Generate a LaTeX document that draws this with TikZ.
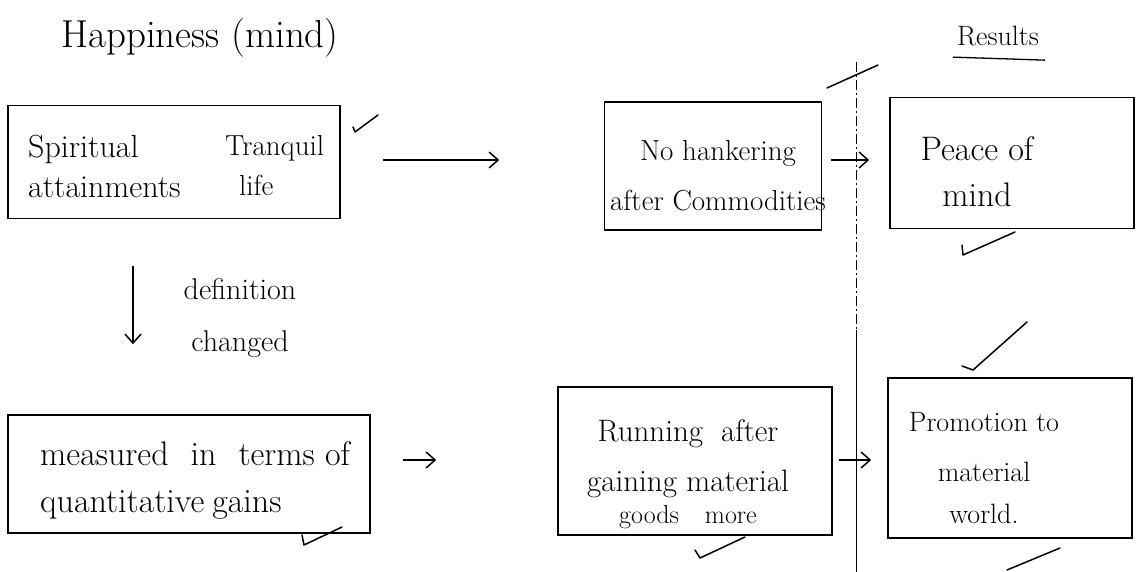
\documentclass[tikz,border=0pt]{standalone}
\usepackage{fontspec}
\usetikzlibrary{arrows.meta,calc}
\begin{document}
\begin{tikzpicture}[x=1pt,y=-1pt,
  box/.style={draw,line width=1.6pt,inner sep=0pt},
  txt/.style={inner sep=0pt,font=\fontsize{#1}{46}\selectfont},
  txt/.default=30,
  arr/.style={line width=1.5pt,-{Straight Barb[length=9pt,width=16pt,line width=1.5pt]}},
  tick/.style={line width=1.5pt,line cap=round,line join=round}]
\useasboundingbox (0,0) rectangle (1138,572);
\fill[white] (0,0) rectangle (1138,572);
% title and header
\node[txt=39] (title) at (200,38) {Happiness (mind)};
\node[txt=28] (res) at (998,36) {Results};
\draw[line width=1.3pt] ($(res.south west)+(-4,11)$) -- ($(res.south east)+(6,14)$);
% boxes
\node[box,minimum width=332pt,minimum height=113pt] (b1) at (174,162) {};
\node[box,minimum width=217pt,minimum height=128pt] (b2) at (713,166) {};
\node[box,minimum width=244pt,minimum height=131pt] (b3) at (1012,163) {};
\node[box,minimum width=362pt,minimum height=118pt] (b4) at (189,474) {};
\node[box,minimum width=274pt,minimum height=148pt] (b5) at (695,461) {};
\node[box,minimum width=244pt,minimum height=160pt] (b6) at (1010,458) {};
% box texts
\node[txt=32,align=left,anchor=west,font=\fontsize{32}{40}\selectfont] (t1a) at (28,166) {Spiritual\\attainments};
\node[txt=29,align=left,anchor=west,font=\fontsize{29}{40}\selectfont] (t1b) at (225,166) {Tranquil\\\hspace{14pt}life};
\node[txt=29,align=center,font=\fontsize{29}{50}\selectfont] (t2) at (718,176) {No hankering\\after Commodities};
\node[txt=34,align=center,font=\fontsize{34}{46}\selectfont] (t3) at (977,172) {Peace of\\mind};
\node[txt=34,align=left,anchor=west,font=\fontsize{34}{47}\selectfont] (t4) at (40,481)
  {measured\hspace{22pt}in\hspace{22pt}terms of\\quantitative\hspace{8pt}gains};
\node[txt=31,align=center,font=\fontsize{31}{50}\selectfont] (t5) at (688,474)
  {Running\hspace{18pt}after\\gaining material\\[-18pt]{\fontsize{26}{28}\selectfont goods\hspace{26pt}more}};
\node[txt=28,align=center,font=\fontsize{28}{50}\selectfont] (t6) at (984,468) {Promotion to\\material\\[-8pt]world.};
% labels
\node[txt=30,align=center,font=\fontsize{30}{52}\selectfont] (def) at (240,318) {definition\\changed};
% connectors
\coordinate (a1s) at ($(b1.east)+(42,-2)$);
\coordinate (a1e) at ($(b2.west)+(-104.5,-6)$);
\draw[arr] (a1s) -- (a1e);
\coordinate (a2s) at ($(b2.east)+(8.5,-6)$);
\coordinate (a2e) at ($(b3.west)+(-20,-3)$);
\draw[arr] (a2s) -- (a2e);
\coordinate (a3s) at ($(b1.south)+(-41,46.5)$);
\coordinate (a3e) at ($(b4.north)+(-56,-70)$);
\draw[arr] (a3s) -- (a3e);
\coordinate (a4s) at ($(b4.east)+(32,-14)$);
\coordinate (a4e) at ($(b5.west)+(-121,-1)$);
\draw[arr] (a4s) -- (a4e);
\coordinate (a5s) at ($(b5.east)+(6,-1)$);
\coordinate (a5e) at ($(b6.west)+(-16,2)$);
\draw[arr] (a5s) -- (a5e);
% divider
\draw[line width=1pt,dash pattern=on 10pt off 3pt on 2pt off 3pt] (856,62) -- (856,330);
\draw[line width=1pt] (856,330) -- (856,572);
% ticks
\draw[tick] (353,127) -- (355,132) -- (378,115);
\draw[tick] (827,88) -- (878,65);
\draw[tick] (962,245) -- (963,255) -- (1015,232);
\draw[tick] (302,535) -- (304,545) -- (342,527);
\draw[tick] (695,550) -- (700,558) -- (745,537);
\draw[tick] (962,366) -- (973,370) -- (1027,322);
\draw[tick] (1007,570) -- (1060,548);
\end{tikzpicture}
\end{document}
